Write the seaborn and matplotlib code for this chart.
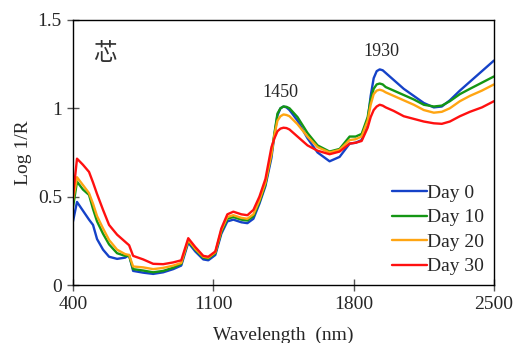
import pandas as pd
import numpy as np
import seaborn as sns
import matplotlib
matplotlib.use('Agg')
import matplotlib.pyplot as plt

# wavelength grid (nm) and values
wavelength = [400, 420, 450, 480, 500, 520, 550, 580, 620, 660, 680, 700, 750, 800, 850,
              900, 940, 975, 1010, 1050, 1075, 1110, 1140, 1170, 1200, 1240, 1270, 1300,
              1330, 1360, 1390, 1405, 1420, 1435, 1450, 1465, 1480, 1520, 1570, 1620, 1680,
              1730, 1780, 1810, 1840, 1870, 1885, 1900, 1915, 1930, 1945, 1960, 2000, 2050,
              2100, 2150, 2200, 2240, 2280, 2330, 2380, 2440, 2500]

day0 = [0.36, 0.47, 0.42, 0.37, 0.34, 0.26, 0.20, 0.16, 0.148, 0.155, 0.17, 0.08, 0.07, 0.063,
        0.072, 0.09, 0.11, 0.24, 0.19, 0.145, 0.14, 0.17, 0.29, 0.36, 0.37, 0.355, 0.35, 0.375,
        0.46, 0.56, 0.72, 0.85, 0.96, 1.0, 1.01, 1.005, 0.99, 0.93, 0.83, 0.75, 0.70,
        0.725, 0.80, 0.805, 0.82, 0.93, 1.07, 1.17, 1.21, 1.22, 1.215, 1.20, 1.16, 1.11,
        1.07, 1.03, 1.005, 1.01, 1.045, 1.10, 1.15, 1.21, 1.27]

day10 = [0.44, 0.585, 0.54, 0.51, 0.43, 0.36, 0.29, 0.23, 0.18, 0.165, 0.165, 0.09, 0.082, 0.072,
         0.08, 0.098, 0.12, 0.25, 0.20, 0.155, 0.15, 0.18, 0.30, 0.375, 0.385, 0.37, 0.365, 0.39,
         0.47, 0.57, 0.74, 0.86, 0.97, 1.0, 1.01, 1.008, 1.00, 0.95, 0.86, 0.79, 0.755,
         0.77, 0.84, 0.84, 0.855, 0.95, 1.05, 1.11, 1.135, 1.14, 1.135, 1.12, 1.10, 1.075,
         1.05, 1.02, 1.01, 1.015, 1.04, 1.08, 1.11, 1.145, 1.18]

day20 = [0.48, 0.61, 0.565, 0.52, 0.46, 0.39, 0.32, 0.255, 0.20, 0.175, 0.17, 0.105, 0.10, 0.09,
         0.097, 0.11, 0.125, 0.255, 0.205, 0.16, 0.155, 0.185, 0.31, 0.385, 0.395, 0.38, 0.375, 0.40,
         0.48, 0.58, 0.74, 0.85, 0.93, 0.955, 0.965, 0.962, 0.955, 0.91, 0.84, 0.78, 0.75,
         0.765, 0.82, 0.825, 0.84, 0.93, 1.02, 1.08, 1.10, 1.105, 1.10, 1.09, 1.07, 1.045,
         1.02, 0.99, 0.975, 0.98, 1.0, 1.04, 1.07, 1.10, 1.135]

day30 = [0.50, 0.715, 0.68, 0.64, 0.58, 0.515, 0.425, 0.34, 0.285, 0.245, 0.225, 0.165, 0.145, 0.12,
         0.118, 0.128, 0.14, 0.265, 0.215, 0.165, 0.16, 0.19, 0.32, 0.40, 0.415, 0.40, 0.395, 0.425,
         0.50, 0.60, 0.78, 0.83, 0.87, 0.885, 0.89, 0.888, 0.88, 0.84, 0.79, 0.76, 0.74,
         0.755, 0.80, 0.805, 0.815, 0.89, 0.95, 0.99, 1.01, 1.02, 1.015, 1.005, 0.985, 0.955,
         0.94, 0.925, 0.915, 0.912, 0.925, 0.955, 0.98, 1.005, 1.04]

labels = ["Day 0", "Day 10", "Day 20", "Day 30"]
colors = ["#1542c8", "#149614", "#ffa512", "#ff1010"]

peak_pos = [1433, 1941]
peak_val = [1.09, 1.32]
peak_text = ["1450", "1930"]

# long form table for seaborn
frames = []
for lab, vals in zip(labels, [day0, day10, day20, day30]):
    frames.append(pd.DataFrame({"wl": wavelength, "val": vals, "day": lab}))
df = pd.concat(frames, ignore_index=True)

sns.set_style("ticks")
plt.rcParams['font.family'] = ['Liberation Serif', 'DejaVu Serif']

fig = plt.figure(figsize=(5.14, 3.43), dpi=100)
ax = fig.add_axes([0.142, 0.169, 0.819, 0.773])

sns.lineplot(data=df, x="wl", y="val", hue="day", palette=dict(zip(labels, colors)),
             linewidth=1.7, ax=ax, sort=False)

ax.set_xlim(400, 2500)
ax.set_ylim(0, 1.5)
ax.set_xticks([400, 1100, 1800, 2500])
ax.set_yticks([0, 0.5, 1, 1.5])
ax.set_yticklabels(["0", "0.5", "1", "1.5"])
ax.tick_params(direction='inout', length=8, width=1, color='#555555', labelsize=14, pad=4)
for s in ax.spines.values():
    s.set_color('black')
    s.set_linewidth(1.0)

ax.set_xlabel("Wavelength  (nm)", fontsize=14, labelpad=10)
ax.set_ylabel("Log 1/R", fontsize=14, labelpad=4)

for xp, yp, t in zip(peak_pos, peak_val, peak_text):
    ax.text(xp, yp, t, ha='center', va='center', fontsize=13)

# sample label (core)
ax.text(0.075, 0.875, "芯", transform=ax.transAxes, ha='center', va='center',
        fontsize=17, fontweight='light', family=['Noto Sans CJK SC', 'DejaVu Sans'],
        color='#333333')

leg = ax.legend(loc='lower right', frameon=False, fontsize=14, handlelength=1.8,
                handletextpad=0.0, labelspacing=0.35, borderaxespad=0.1,
                bbox_to_anchor=(1.0, 0.0))

fig.savefig("out.png", dpi=100)
